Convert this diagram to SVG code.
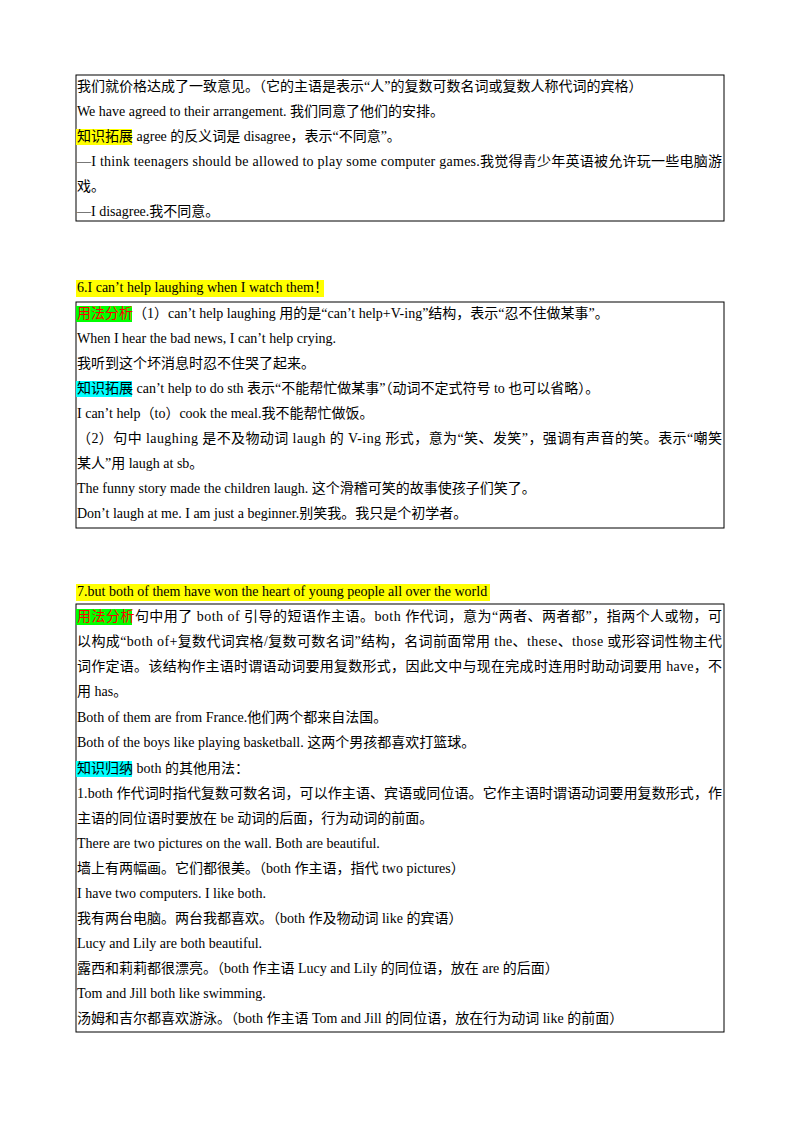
<svg xmlns="http://www.w3.org/2000/svg" width="800" height="1132" viewBox="0 0 800 1132">
<style>
text{font-family:"Liberation Serif","Noto Sans CJK SC",serif;font-size:14px;fill:#000}
.box{fill:none;stroke:#000;stroke-width:1}
.y{fill:#ffff00}.c{fill:#00ffff}.g{fill:#00ff00}
.r{fill:#ff0000}
</style>
<rect width="800" height="1132" fill="#fff"/>
<g id="box1">
<rect class="box" x="76" y="75" width="648" height="146"/>
<rect class="y" x="76" y="129" width="56" height="16"/>
<text x="77" y="91">我们就价格达成了一致意见。（它的主语是表示“人”的复数可数名词或复数人称代词的宾格）</text>
<text x="77" y="116">We have agreed to their arrangement. 我们同意了他们的安排。</text>
<text x="77" y="141">知识拓展 agree 的反义词是 disagree，表示“不同意”。</text>
<text x="77" y="166" textLength="645" lengthAdjust="spacing">—I think teenagers should be allowed to play some computer games.我觉得青少年英语被允许玩一些电脑游</text>
<text x="77" y="191">戏。</text>
<text x="77" y="216">—I disagree.我不同意。</text>
</g>
<g id="sec6">
<rect class="y" x="76" y="280" width="248" height="17"/>
<text x="77" y="292">6.I can’t help laughing when I watch them！</text>
<rect class="box" x="76" y="302" width="648" height="226"/>
<rect class="g" x="76" y="306" width="56" height="16"/>
<text x="77" y="318"><tspan class="r">用法分析</tspan>（1）can’t help laughing 用的是“can’t help+V-ing”结构，表示“忍不住做某事”。</text>
<text x="77" y="343">When I hear the bad news, I can’t help crying.</text>
<text x="77" y="368">我听到这个坏消息时忍不住哭了起来。</text>
<rect class="c" x="76" y="381" width="56" height="16"/>
<text x="77" y="393">知识拓展 can’t help to do sth 表示“不能帮忙做某事”（动词不定式符号 to 也可以省略）。</text>
<text x="77" y="418">I can’t help（to）cook the meal.我不能帮忙做饭。</text>
<text x="77" y="443" textLength="645" lengthAdjust="spacing">（2）句中 laughing 是不及物动词 laugh 的 V-ing 形式，意为“笑、发笑”，强调有声音的笑。表示“嘲笑</text>
<text x="77" y="468">某人”用 laugh at sb。</text>
<text x="77" y="493">The funny story made the children laugh. 这个滑稽可笑的故事使孩子们笑了。</text>
<text x="77" y="518">Don’t laugh at me. I am just a beginner.别笑我。我只是个初学者。</text>
</g>
<g id="sec7">
<rect class="y" x="76" y="584" width="414" height="17"/>
<text x="77" y="596">7.but both of them have won the heart of young people all over the world</text>
<rect class="box" x="76" y="604" width="648" height="428"/>
<rect class="g" x="76" y="609" width="56" height="16"/>
<text x="77" y="621" textLength="645" lengthAdjust="spacing"><tspan class="r">用法分析</tspan>句中用了 both of 引导的短语作主语。both 作代词，意为“两者、两者都”，指两个人或物，可</text>
<text x="77" y="646" textLength="645" lengthAdjust="spacing">以构成“both of+复数代词宾格/复数可数名词”结构，名词前面常用 the、these、those 或形容词性物主代</text>
<text x="77" y="671" textLength="645" lengthAdjust="spacing">词作定语。该结构作主语时谓语动词要用复数形式，因此文中与现在完成时连用时助动词要用 have，不</text>
<text x="77" y="696">用 has。</text>
<text x="77" y="722">Both of them are from France.他们两个都来自法国。</text>
<text x="77" y="747">Both of the boys like playing basketball. 这两个男孩都喜欢打篮球。</text>
<rect class="c" x="76" y="761" width="56" height="16"/>
<text x="77" y="773">知识归纳 both 的其他用法：</text>
<text x="77" y="798" textLength="645" lengthAdjust="spacing">1.both 作代词时指代复数可数名词，可以作主语、宾语或同位语。它作主语时谓语动词要用复数形式，作</text>
<text x="77" y="823">主语的同位语时要放在 be 动词的后面，行为动词的前面。</text>
<text x="77" y="848">There are two pictures on the wall. Both are beautiful.</text>
<text x="77" y="873">墙上有两幅画。它们都很美。（both 作主语，指代 two pictures）</text>
<text x="77" y="898">I have two computers. I like both.</text>
<text x="77" y="923">我有两台电脑。两台我都喜欢。（both 作及物动词 like 的宾语）</text>
<text x="77" y="948">Lucy and Lily are both beautiful.</text>
<text x="77" y="973">露西和莉莉都很漂亮。（both 作主语 Lucy and Lily 的同位语，放在 are 的后面）</text>
<text x="77" y="998">Tom and Jill both like swimming.</text>
<text x="77" y="1023">汤姆和吉尔都喜欢游泳。（both 作主语 Tom and Jill 的同位语，放在行为动词 like 的前面）</text>
</g>
</svg>
